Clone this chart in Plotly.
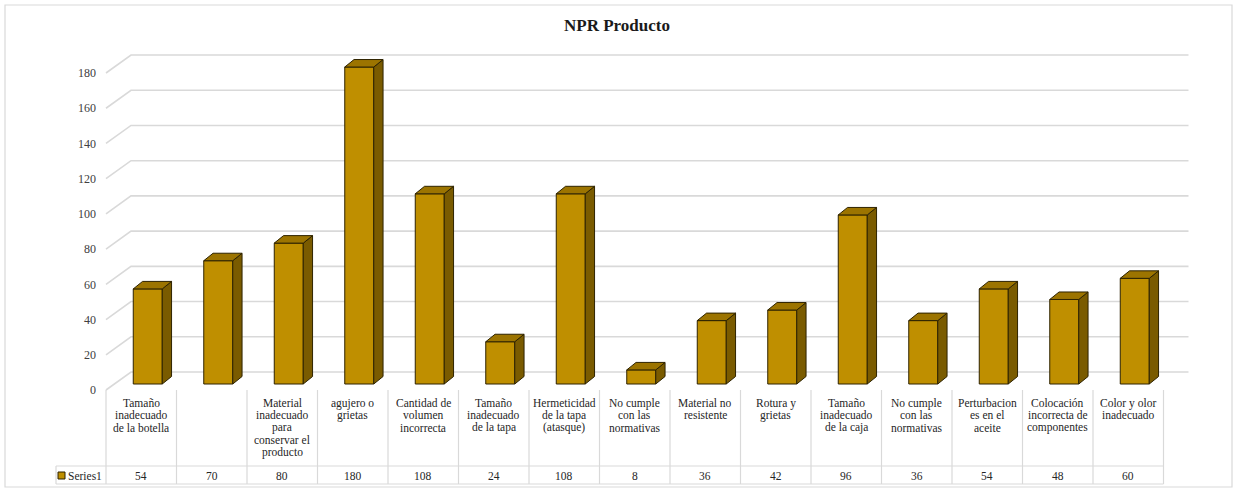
import plotly.graph_objects as go

# ---- data -------------------------------------------------------------
categories = [
    "Tamaño\ninadecuado\nde la botella",
    "",
    "Material\ninadecuado\npara\nconservar el\nproducto",
    "agujero o\ngrietas",
    "Cantidad de\nvolumen\nincorrecta",
    "Tamaño\ninadecuado\nde la tapa",
    "Hermeticidad\nde la tapa\n(atasque)",
    "No cumple\ncon las\nnormativas",
    "Material no\nresistente",
    "Rotura y\ngrietas",
    "Tamaño\ninadecuado\nde la caja",
    "No cumple\ncon las\nnormativas",
    "Perturbacion\nes en el\naceite",
    "Colocación\nincorrecta de\ncomponentes",
    "Color y olor\ninadecuado",
]
npr_values = [54, 70, 80, 180, 108, 24, 108, 8, 36, 42, 96, 36, 54, 48, 60]
series_name = "Series1"
y_ticks = [0, 20, 40, 60, 80, 100, 120, 140, 160, 180]

# ---- geometry (pixels -> axis units) ----------------------------------
W, H = 1234, 491
COL_PX = 70.5          # width of one category column
COL0_PX = 141.25       # centre of the first column
FLOOR_PY = 390.0       # pixel row of value 0 on the front edge
UNIT_PY = 1.761        # pixels per value unit

def x_of(px):
    return (px - COL0_PX) / COL_PX

def y_of(py):
    return (FLOOR_PY - py) / UNIT_PY

def dx(px):
    return px / COL_PX

def dy(py):
    return py / UNIT_PY

n = len(categories)
FLOOR_DX, FLOOR_DY = dx(25), dy(18)     # depth of the 3-D floor / back wall
BAR_SHIFT = dx(6.5)                     # bars sit a third of the way in
BAR_BASE = dy(6)
BAR_W = dx(29)
SIDE_DX, SIDE_DY = dx(9.3), dy(7.5)     # depth of each column

FRONT = "#BF8F00"
TOP = "#9C7400"
SIDE = "#7A5B00"
EDGE = "#2E2300"
GRID = "#D9D9D9"
TXT = "#262626"
SERIF = "Liberation Serif"

fig = go.Figure()
shapes = []

# back wall gridlines with their diagonal floor-to-wall segments (behind bars)
for v in y_ticks:
    path = (f"M{-0.5},{v} L{-0.5 + FLOOR_DX},{v + FLOOR_DY} "
            f"L{n - 0.5 + FLOOR_DX},{v + FLOOR_DY}")
    shapes.append(dict(type="path", xref="x", yref="y", path=path,
                       line=dict(color=GRID, width=1.6), layer="below"))

# front faces of the columns
xs = [i + BAR_SHIFT for i in range(n)]
fig.add_trace(go.Bar(x=xs, y=npr_values, base=BAR_BASE, width=BAR_W,
                     marker=dict(color=FRONT, line=dict(color=EDGE, width=1)),
                     name=series_name))

# top and side faces
tx, ty, sx, sy = [], [], [], []
for xc, v in zip(xs, npr_values):
    xl, xr = xc - BAR_W / 2, xc + BAR_W / 2
    b, t = BAR_BASE, BAR_BASE + v
    tx += [xl, xr, xr + SIDE_DX, xl + SIDE_DX, xl, None]
    ty += [t, t, t + SIDE_DY, t + SIDE_DY, t, None]
    sx += [xr, xr, xr + SIDE_DX, xr + SIDE_DX, xr, None]
    sy += [b, t, t + SIDE_DY, b + SIDE_DY, b, None]
fig.add_trace(go.Scatter(x=sx, y=sy, mode="lines", fill="toself",
                         fillcolor=SIDE, line=dict(color=EDGE, width=1),
                         hoverinfo="skip"))
fig.add_trace(go.Scatter(x=tx, y=ty, mode="lines", fill="toself",
                         fillcolor=TOP, line=dict(color=EDGE, width=1),
                         hoverinfo="skip"))

# ---- data table below the plot ----------------------------------------
ROW_TOP = y_of(466)
ROW_BOT = y_of(484)
LEGEND_LEFT = x_of(56)
tlx, tly = [], []
for k in range(n + 1):
    tlx += [k - 0.5, k - 0.5, None]
    tly += [0, ROW_BOT, None]
for yy in (ROW_TOP, ROW_BOT):
    tlx += [LEGEND_LEFT, n - 0.5, None]
    tly += [yy, yy, None]
tlx += [LEGEND_LEFT, LEGEND_LEFT, None]
tly += [ROW_TOP, ROW_BOT, None]
fig.add_trace(go.Scatter(x=tlx, y=tly, mode="lines",
                         line=dict(color=GRID, width=1.2),
                         hoverinfo="skip"))

annotations = []
LINE_PX = 12.3
for i, label in enumerate(categories):
    for k, line in enumerate(label.split("\n")):
        if not line:
            continue
        annotations.append(dict(
            x=i, y=y_of(403 + LINE_PX * k), xref="x", yref="y",
            text=line, showarrow=False, xanchor="center", yanchor="middle",
            font=dict(family=SERIF, size=11.5, color=TXT)))
    annotations.append(dict(
        x=i, y=y_of(475.5), xref="x", yref="y", text=str(npr_values[i]),
        showarrow=False, xanchor="center", yanchor="middle",
        font=dict(family=SERIF, size=11.5, color=TXT)))

# legend key inside the table
fig.add_trace(go.Scatter(x=[x_of(61.5)], y=[y_of(475.5)], mode="markers",
                         marker=dict(symbol="square", size=7, color=FRONT,
                                     line=dict(color=EDGE, width=1)),
                         hoverinfo="skip"))
annotations.append(dict(
    x=x_of(65.5), y=y_of(475.5), xref="x", yref="y", text=series_name,
    showarrow=False, xanchor="left", yanchor="middle",
    font=dict(family=SERIF, size=11.5, color=TXT)))

# title
annotations.append(dict(
    x=0.5, y=1 - 25 / H, xref="paper", yref="paper", text="<b>NPR Producto</b>",
    showarrow=False, xanchor="center", yanchor="middle",
    font=dict(family=SERIF, size=17, color="#1A1A1A")))

# chart border
shapes.append(dict(type="rect", xref="paper", yref="paper",
                   x0=5 / W, x1=1 - 2 / W, y0=1 - 487 / H, y1=1 - 5 / H,
                   line=dict(color=GRID, width=1.2),
                   fillcolor="rgba(0,0,0,0)"))

fig.update_layout(
    width=W, height=H,
    margin=dict(l=0, r=0, t=0, b=0),
    paper_bgcolor="white", plot_bgcolor="white",
    showlegend=False,
    annotations=annotations,
    shapes=shapes,
    xaxis=dict(range=[x_of(0), x_of(W)], visible=False, fixedrange=True),
    yaxis=dict(range=[y_of(H), y_of(0)], anchor="free", position=105 / W,
               tickvals=y_ticks, ticktext=[str(v) for v in y_ticks],
               showgrid=False, zeroline=False, showline=False, ticks="",
               ticklabelstandoff=9,
               tickfont=dict(family=SERIF, size=12, color="#404040"),
               fixedrange=True),
)

fig.write_html("out.html")
